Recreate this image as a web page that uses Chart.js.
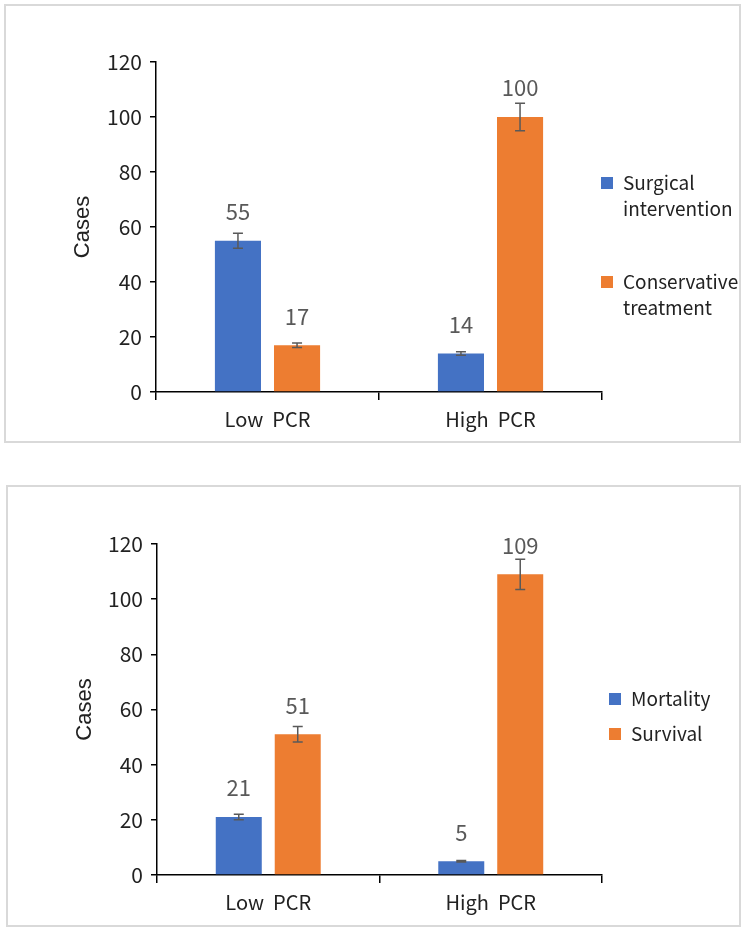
<!DOCTYPE html>
<html>
<head>
  <title>PCR cases</title>
  <script src="https://cdn.jsdelivr.net/npm/chart.js"></script>
  <style>
    body { margin: 0; background: #fff; }
    .panel { position: absolute; border: 2px solid #d9d9d9; background: #fff; }
    #p1 { left: 4px; top: 4px; width: 733px; height: 435px; }
    #p2 { left: 6px; top: 485px; width: 731px; height: 438px; }
    canvas { display: block; }
  </style>
</head>
<body>
  <div class="panel" id="p1"><canvas id="chart1"></canvas></div>
  <div class="panel" id="p2"><canvas id="chart2"></canvas></div>
  <script>
    // data
    var categories = ['Low  PCR', 'High  PCR'];
    var yTicks = [0, 20, 40, 60, 80, 100, 120];

    var surgical = [55, 14];
    var surgicalErr = [2.7, 0.6];
    var conservative = [17, 100];
    var conservativeErr = [0.8, 5];

    var mortality = [21, 5];
    var mortalityErr = [1, 0.3];
    var survival = [51, 109];
    var survivalErr = [2.8, 5.5];

    var blue = '#4472C4';
    var orange = '#ED7D31';
    var labelFont = "'Noto Sans CJK KR', 'Noto Sans', sans-serif";

    // error bars drawn from the y scale
    var errorBars = {
      id: 'errorBars',
      afterDatasetsDraw: function(chart) {
        var c = chart.ctx, y = chart.scales.y;
        c.save();
        c.strokeStyle = '#595959';
        c.lineWidth = 1.5;
        chart.data.datasets.forEach(function(ds, i) {
          chart.getDatasetMeta(i).data.forEach(function(bar, j) {
            var v = ds.data[j], e = ds.err[j];
            var top = y.getPixelForValue(v + e), bot = y.getPixelForValue(v - e);
            c.beginPath();
            c.moveTo(bar.x, top); c.lineTo(bar.x, bot);
            c.moveTo(bar.x - 5, top); c.lineTo(bar.x + 5, top);
            c.moveTo(bar.x - 5, bot); c.lineTo(bar.x + 5, bot);
            c.stroke();
          });
        });
        c.restore();
      }
    };

    // value labels above bars
    var valueLabels = {
      id: 'valueLabels',
      afterDatasetsDraw: function(chart) {
        var c = chart.ctx;
        c.save();
        c.fillStyle = '#595959';
        c.font = '22px ' + labelFont;
        c.textAlign = 'center';
        c.textBaseline = 'middle';
        chart.data.datasets.forEach(function(ds, i) {
          chart.getDatasetMeta(i).data.forEach(function(bar, j) {
            c.fillText(String(ds.data[j]), bar.x, bar.y - 29);
          });
        });
        c.restore();
      }
    };

    // legend on the right, wrapped lines
    var sideLegend = {
      id: 'sideLegend',
      afterDraw: function(chart, args, opts) {
        var c = chart.ctx;
        c.save();
        c.font = '19px ' + labelFont;
        c.textBaseline = 'middle';
        chart.data.datasets.forEach(function(ds, i) {
          var y0 = opts.ys[i];
          c.fillStyle = ds.backgroundColor;
          c.fillRect(opts.x, y0 - 6, 12, 12);
          c.fillStyle = '#222';
          ds.legendLines.forEach(function(line, k) {
            c.fillText(line, opts.x + 22, y0 + k * 26);
          });
        });
        c.restore();
      }
    };

    function makeChart(id, datasets, lay) {
      return new Chart(document.getElementById(id), {
        type: 'bar',
        data: { labels: categories, datasets: datasets },
        plugins: [errorBars, valueLabels, sideLegend],
        options: {
          responsive: true,
          maintainAspectRatio: false,
          animation: false,
          layout: { padding: { top: lay.top, left: lay.left, right: lay.right, bottom: 0 } },
          datasets: { bar: { categoryPercentage: 0.53, barPercentage: 0.78 } },
          plugins: {
            legend: { display: false },
            tooltip: { enabled: false },
            sideLegend: { x: lay.legendX, ys: lay.legendYs }
          },
          scales: {
            x: {
              afterFit: function(s) { s.height = lay.xHeight; },
              grid: { drawOnChartArea: false, tickLength: 8, color: '#000', lineWidth: 1.5 },
              border: { color: '#000', width: 1.5 },
              ticks: { color: '#222', font: { size: 20, family: labelFont }, padding: 7 }
            },
            y: {
              min: 0, max: 120,
              afterFit: function(s) { s.width = lay.yWidth; },
              afterBuildTicks: function(s) { s.ticks = yTicks.map(function(v) { return { value: v }; }); },
              grid: { drawOnChartArea: false, tickLength: 6, color: '#000', lineWidth: 1.5 },
              border: { color: '#000', width: 1.5 },
              ticks: { color: '#222', font: { size: 21, family: labelFont }, padding: 8 },
              title: { display: true, text: 'Cases', color: '#222', padding: { top: 2, bottom: 4 }, font: { size: 22, family: "'Liberation Sans', Arial, sans-serif" } }
            }
          }
        }
      });
    }

    makeChart('chart1', [
      { label: 'Surgical intervention', legendLines: ['Surgical', 'intervention'], data: surgical, err: surgicalErr, backgroundColor: blue },
      { label: 'Conservative treatment', legendLines: ['Conservative', 'treatment'], data: conservative, err: conservativeErr, backgroundColor: orange }
    ], { top: 56, left: 62, right: 137, yWidth: 88, xHeight: 49, legendX: 595, legendYs: [177, 276] });

    makeChart('chart2', [
      { label: 'Mortality', legendLines: ['Mortality'], data: mortality, err: mortalityErr, backgroundColor: blue },
      { label: 'Survival', legendLines: ['Survival'], data: survival, err: survivalErr, backgroundColor: orange }
    ], { top: 57, left: 62, right: 137, yWidth: 87, xHeight: 50, legendX: 601, legendYs: [212, 247] });
  </script>
</body>
</html>
